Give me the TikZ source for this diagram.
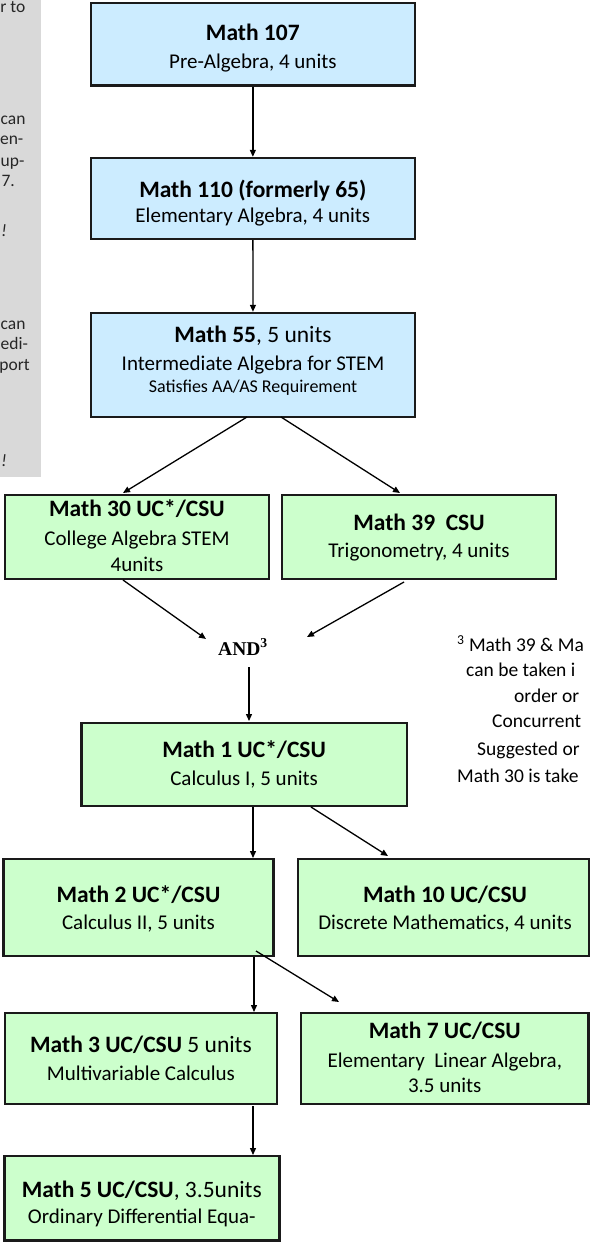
\documentclass[tikz,border=0pt]{standalone}
\usepackage{fontspec}
\setmainfont{Carlito}
\newfontfamily\timesf{Liberation Serif}
\usetikzlibrary{arrows.meta}
\definecolor{boxblue}{HTML}{CCECFF}
\definecolor{boxgreen}{HTML}{CCFFCC}
\definecolor{panelgrey}{HTML}{D9D9D9}
\definecolor{edge}{HTML}{1A1A1A}
\begin{document}
\begin{tikzpicture}[x=1pt,y=-1pt,
  box/.style={draw=edge, line width=2.4pt, inner sep=0pt},
  bluebox/.style={box, fill=boxblue},
  greenbox/.style={box, fill=boxgreen},
  ttl/.style={inner sep=0pt, text height=16.5pt, text depth=4.7pt, font=\fontsize{23.5}{28}\selectfont},
  sub/.style={inner sep=0pt, text height=14.7pt, text depth=4.2pt, font=\fontsize{21}{25}\selectfont},
  small/.style={inner sep=0pt, text height=12.6pt, text depth=3.6pt, font=\fontsize{18}{22}\selectfont},
  gtext/.style={inner sep=0pt, anchor=east, text=black!85, text height=12.3pt, text depth=3.5pt, font=\fontsize{17.5}{21}\selectfont},
  note/.style={inner sep=0pt, anchor=west, text height=13.7pt, text depth=3.9pt, font=\fontsize{19.5}{24}\selectfont},
  arr/.style={-{Triangle[length=7pt,width=6pt]}, line width=1.3pt, draw=black}]
\useasboundingbox (0,0) rectangle (590,1242);
% grey side panel
\fill[panelgrey] (0,0) rectangle (41,477);
\node[gtext] (g1) at (25.5,8) {r to};
\node[gtext, anchor=west] (g2) at (0.5,120) {can};
\node[gtext] (g3) at (23.5,140) {en-};
\node[gtext, anchor=west] (g4) at (0.5,162) {up-};
\node[gtext] (g5) at (15,182) {7.};
\node[gtext] (g6) at (7,232) {\itshape !};
\node[gtext, anchor=west] (g7) at (0.5,325) {can};
\node[gtext, anchor=west] (g8) at (0.5,345) {edi-};
\node[gtext] (g9) at (30,366) {port};
\node[gtext] (g10) at (7,462) {\itshape !};
% boxes
\node[bluebox, minimum width=323.7pt, minimum height=82.5pt] (m107) at (252.85,44.25) {};
\node[bluebox, minimum width=323.7pt, minimum height=81pt] (m110) at (252.85,198.5) {};
\node[bluebox, minimum width=324pt, minimum height=104pt] (m55) at (253,365) {};
\node[greenbox, minimum width=264pt, minimum height=84pt] (m30) at (137,537) {};
\node[greenbox, minimum width=273.5pt, minimum height=84pt] (m39) at (419,537) {};
\node[greenbox, minimum width=325.2pt, minimum height=83.3pt] (m1) at (244.1,764.35) {};
\node[greenbox, minimum width=270pt, minimum height=97pt] (m2) at (138.5,907.5) {};
\node[greenbox, minimum width=291pt, minimum height=97pt] (m10) at (443.5,907.5) {};
\node[greenbox, minimum width=272pt, minimum height=91pt] (m3) at (141,1058.5) {};
\node[greenbox, minimum width=287.5pt, minimum height=91pt] (m7) at (444.75,1058.5) {};
\node[greenbox, minimum width=275pt, minimum height=84.5pt] (m5) at (141.8,1198.25) {};
% box texts
\node[ttl] (t107a) at (252.85,35) {\bfseries Math 107};
\node[sub] (t107b) at (252.85,63) {Pre-Algebra, 4 units};
\node[ttl] (t110a) at (252.85,192) {\bfseries Math 110 (formerly 65)};
\node[sub] (t110b) at (252.85,217) {Elementary Algebra, 4 units};
\node[ttl] (t55a) at (253,337) {\textbf{Math 55}, 5 units};
\node[sub] (t55b) at (253,365) {Intermediate Algebra for STEM};
\node[small] (t55c) at (253,388) {Satisfies AA/AS Requirement};
\node[ttl] (t30a) at (137,511) {\bfseries Math 30 UC*/CSU};
\node[sub] (t30b) at (137,540) {College Algebra STEM};
\node[sub] (t30c) at (137,566) {4units};
\node[ttl] (t39a) at (419,525) {\bfseries Math 39\ \ CSU};
\node[sub] (t39b) at (419,552) {Trigonometry, 4 units};
\node[inner sep=0pt, font=\timesf\bfseries\fontsize{19.5}{23}\selectfont] (and) at (243,647) {AND\textsuperscript{3}};
\node[ttl] (t1a) at (244.1,752) {\bfseries Math 1 UC*/CSU};
\node[sub] (t1b) at (244.1,780) {Calculus I, 5 units};
\node[ttl] (t2a) at (138.5,897) {\bfseries Math 2 UC*/CSU};
\node[sub] (t2b) at (138.5,924) {Calculus II, 5 units};
\node[ttl] (t10a) at (445,897) {\bfseries Math 10 UC/CSU};
\node[sub] (t10b) at (445,924) {Discrete Mathematics, 4 units};
\node[ttl] (t3a) at (141,1047) {\textbf{Math 3 UC/CSU} 5 units};
\node[sub] (t3b) at (141,1075) {Multivariable Calculus};
\node[ttl] (t7a) at (444.75,1033) {\bfseries Math 7 UC/CSU};
\node[sub] (t7b) at (444.75,1062) {Elementary\ \ Linear Algebra,};
\node[sub] (t7c) at (444.75,1087) {3.5 units};
\node[ttl] (t5a) at (141.8,1192) {\textbf{Math 5 UC/CSU}, 3.5units};
\node[sub] (t5b) at (141.8,1218) {Ordinary Differential Equa-};
% side note
\node[note] (n1) at (457,647) {\textsuperscript{3} Math 39 \& Ma};
\node[note] (n2) at (466,672) {can be taken i};
\node[note] (n3) at (514,698) {order or};
\node[note] (n4) at (492,723) {Concurrent};
\node[note] (n5) at (477,751) {Suggested or};
\node[note] (n6) at (457,778) {Math 30 is take};
% connector end points
\coordinate (p55a) at (247,417);
\coordinate (p30a) at (123,493);
\coordinate (p55b) at (281,417);
\coordinate (p39a) at (400,493);
\coordinate (p30b) at (123,580);
\coordinate (pand1) at (206,639);
\coordinate (p39b) at (404,582);
\coordinate (pand2) at (307,637);
\coordinate (pand3) at (249,667);
\coordinate (p1top) at (249,721);
\coordinate (p1a) at (253,807);
\coordinate (p2top) at (253,858);
\coordinate (p1b) at (311,807);
\coordinate (p10top) at (388,856);
\coordinate (p2a) at (254,957);
\coordinate (p3top) at (254,1012);
\coordinate (p2b) at (256,951);
\coordinate (p7top) at (339,1002);
\coordinate (p3a) at (253,1106);
\coordinate (p5top) at (253,1155);
% connectors
\draw[arr] (m107) -- (m110);
\draw[arr] (m110) -- (m55);
\draw[arr] (p55a) -- (p30a);
\draw[arr] (p55b) -- (p39a);
\draw[arr] (p30b) -- (pand1);
\draw[arr] (p39b) -- (pand2);
\draw[arr] (pand3) -- (p1top);
\draw[arr] (p1a) -- (p2top);
\draw[arr] (p1b) -- (p10top);
\draw[arr] (p2a) -- (p3top);
\draw[arr] (p2b) -- (p7top);
\draw[arr] (p3a) -- (p5top);
\end{tikzpicture}
\end{document}
